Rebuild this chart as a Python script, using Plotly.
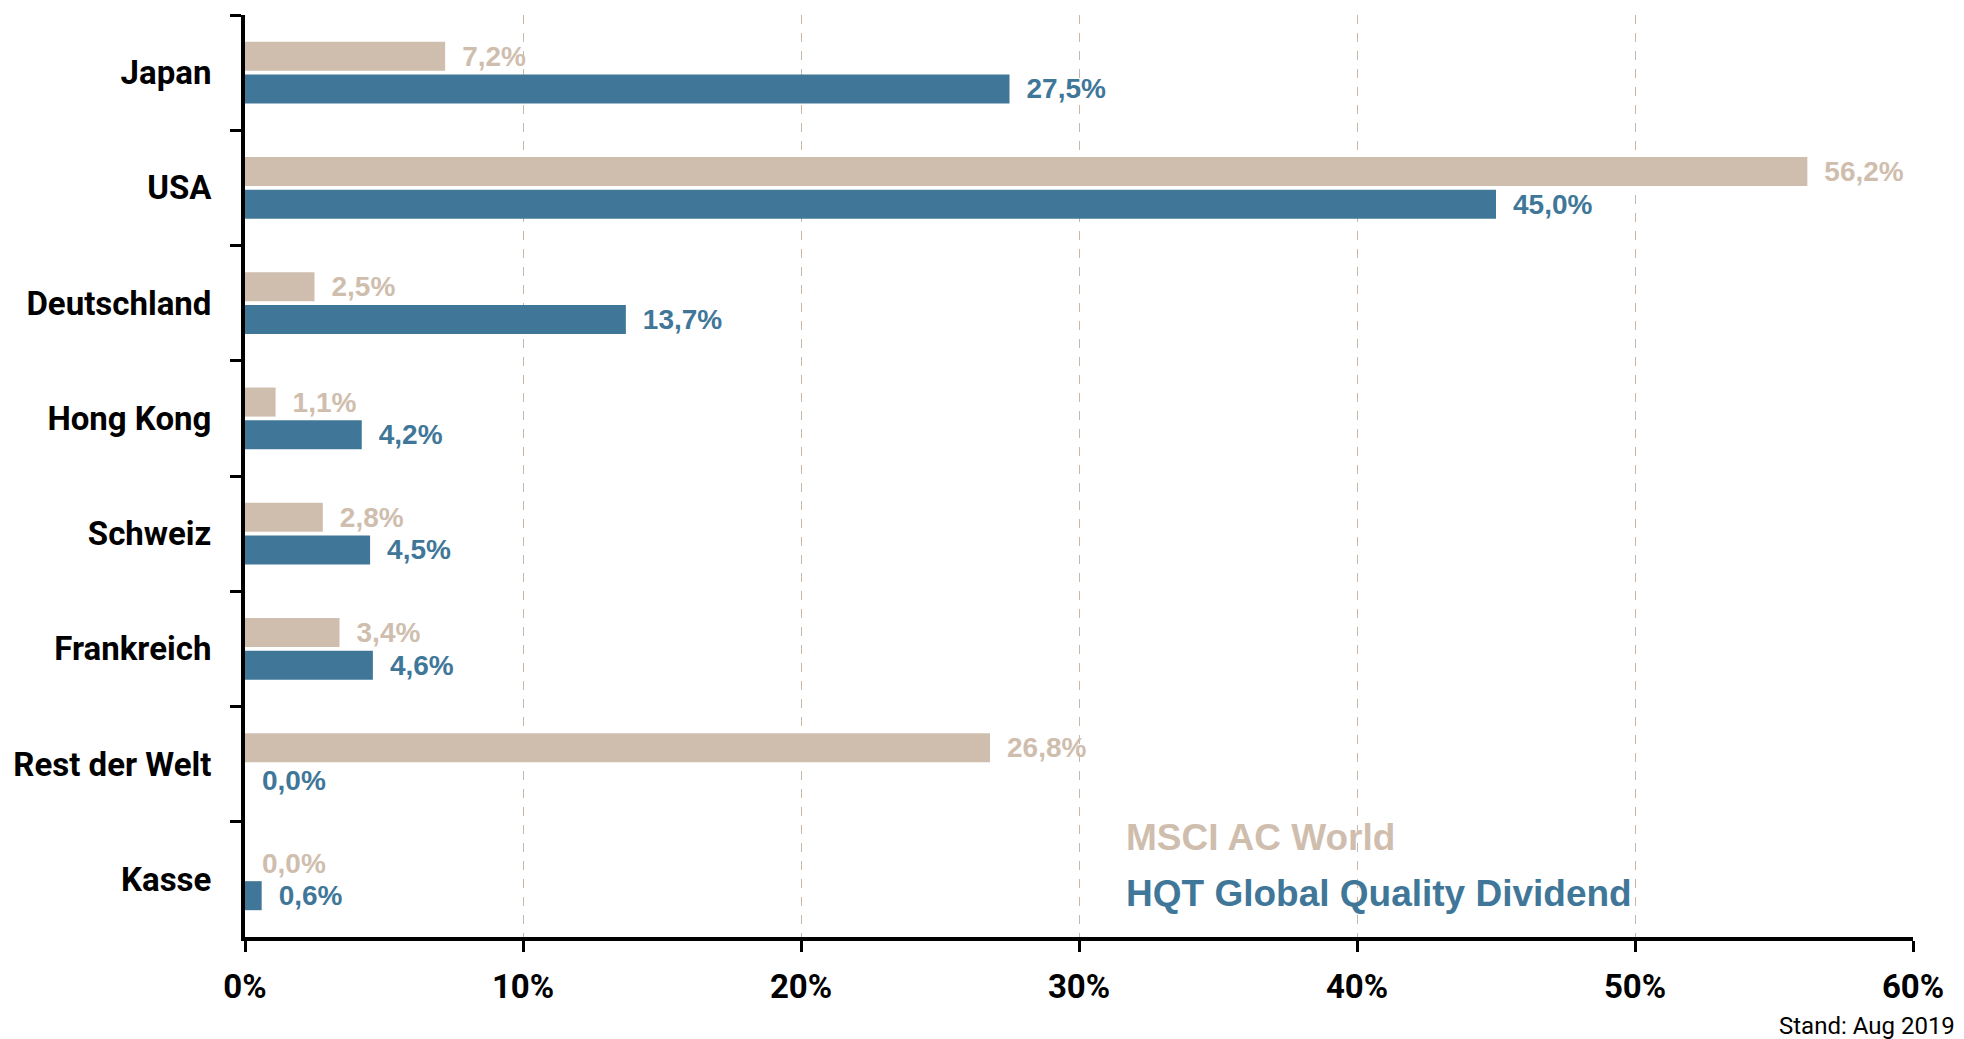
import plotly.graph_objects as go

categories = ["Japan", "USA", "Deutschland", "Hong Kong", "Schweiz", "Frankreich", "Rest der Welt", "Kasse"]
msci_values = [7.2, 56.2, 2.5, 1.1, 2.8, 3.4, 26.8, 0.0]
hqt_values = [27.5, 45.0, 13.7, 4.2, 4.5, 4.6, 0.0, 0.6]
series_names = ["MSCI AC World", "HQT Global Quality Dividend"]
x_ticks = [0, 10, 20, 30, 40, 50, 60]
x_tick_labels = ["0%", "10%", "20%", "30%", "40%", "50%", "60%"]
note_text = "Stand: Aug 2019"

BEIGE = "#CFBEAE"
BLUE = "#407799"
COND = "Roboto, Liberation Sans, sans-serif"
REG = "Liberation Sans, Arial, Helvetica, sans-serif"

fig = go.Figure()
for name, vals, col in [(series_names[0], msci_values, BEIGE), (series_names[1], hqt_values, BLUE)]:
    fig.add_trace(go.Bar(
        y=categories, x=vals, name=name, orientation="h",
        marker=dict(color=col, line=dict(width=0)),
        texttemplate="\u2002%{x:.1f}%", textposition="outside",
        constraintext="none", cliponaxis=False,
        textfont=dict(family=REG, size=28, color=col, weight="bold"),
        hoverinfo="skip",
    ))

# page body has an 8px margin, so the figure is sized/offset to compensate
fig.update_layout(
    width=1956, height=1031,
    margin=dict(l=237, r=51, t=7, b=102),
    plot_bgcolor="white", paper_bgcolor="white",
    barmode="group", bargap=0.434, bargroupgap=0.11,
    showlegend=False,
    separators=",.",
)

fig.update_xaxes(
    range=[0, 60], tickmode="array", tickvals=x_ticks, ticktext=x_tick_labels,
    showgrid=True, gridcolor="#C9B8A7", gridwidth=1, griddash="dash",
    zeroline=False, automargin=False,
    showline=True, linecolor="black", linewidth=4,
    ticks="outside", ticklen=11, tickwidth=3, tickcolor="black",
    tickfont=dict(family=COND, size=33, color="black", weight="bold"),
    ticklabelstandoff=6,
)
fig.update_yaxes(
    type="category", categoryorder="array", categoryarray=categories,
    range=[7.5, -0.5], automargin=False,
    showgrid=False, zeroline=False,
    showline=True, linecolor="black", linewidth=4,
    ticks="outside", tickson="boundaries", ticklen=11, tickwidth=3, tickcolor="black",
    tickfont=dict(family=COND, size=33, color="black", weight="bold"),
    ticklabelstandoff=23,
)

fig.add_annotation(text=series_names[0], xref="paper", yref="paper", x=0.527, y=0.108,
                   xanchor="left", yanchor="middle", showarrow=False,
                   font=dict(family=REG, size=37, color=BEIGE, weight="bold"))
fig.add_annotation(text=series_names[1], xref="paper", yref="paper", x=0.527, y=0.047,
                   xanchor="left", yanchor="middle", showarrow=False,
                   font=dict(family=REG, size=37, color=BLUE, weight="bold"))
fig.add_annotation(text=note_text, xref="paper", yref="paper", x=1.0264, y=-0.0965,
                   xanchor="right", yanchor="middle", showarrow=False,
                   font=dict(family=COND, size=24, color="black"))

fig.write_html("out.html")
